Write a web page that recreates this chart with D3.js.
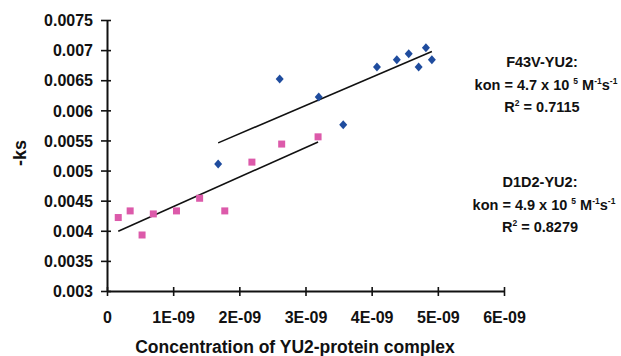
<!DOCTYPE html>
<html>
<head>
<meta charset="utf-8">
<script src="https://cdn.jsdelivr.net/npm/d3@7"></script>
<style>
  body { margin: 0; background: #fff; }
  text { font-family: "Liberation Sans", Arial, sans-serif; font-weight: bold; fill: #111; }
</style>
</head>
<body>
<div id="chart"></div>
<script>
// data
var f43vX = [1.68e-9, 2.61e-9, 3.2e-9, 3.57e-9, 4.08e-9, 4.38e-9, 4.56e-9, 4.71e-9, 4.82e-9, 4.91e-9];
var f43vY = [0.00511, 0.00652, 0.00622, 0.00576, 0.00672, 0.00684, 0.00694, 0.00672, 0.00704, 0.00684];
var d1d2X = [0.17e-9, 0.35e-9, 0.53e-9, 0.7e-9, 1.05e-9, 1.4e-9, 1.78e-9, 2.19e-9, 2.64e-9, 3.19e-9];
var d1d2Y = [0.00422, 0.00433, 0.00393, 0.00428, 0.00433, 0.00454, 0.00433, 0.00514, 0.00544, 0.00556];

// trend lines: slope, intercept
var f43vFit = [4.7e5, 0.00467];
var d1d2Fit = [4.9e5, 0.00391];

var xTicks = [0, 1e-9, 2e-9, 3e-9, 4e-9, 5e-9, 6e-9];
var xTickLabels = ["0", "1E-09", "2E-09", "3E-09", "4E-09", "5E-09", "6E-09"];
var yTicks = [0.003, 0.0035, 0.004, 0.0045, 0.005, 0.0055, 0.006, 0.0065, 0.007, 0.0075];
var yTickLabels = ["0.003", "0.0035", "0.004", "0.0045", "0.005", "0.0055", "0.006", "0.0065", "0.007", "0.0075"];

var svgWidth = 621, svgHeight = 356;

var svg = d3.select("#chart")
    .append("svg")
    .attr("width", svgWidth)
    .attr("height", svgHeight);

var xScale = d3.scaleLinear().domain([0, 6e-9]).range([107, 504]);
var yScale = d3.scaleLinear().domain([0.003, 0.0075]).range([291, 20]);

// axes
var xAxis = d3.axisBottom(xScale)
    .tickValues(xTicks)
    .tickFormat((d, i) => xTickLabels[i])
    .tickSize(0);
var yAxis = d3.axisLeft(yScale)
    .tickValues(yTicks)
    .tickFormat((d, i) => yTickLabels[i])
    .tickSize(0);

var gx = svg.append("g")
    .attr("transform", "translate(0,291)")
    .call(xAxis);
gx.select(".domain").attr("stroke", "#111").attr("stroke-width", 2);
gx.selectAll(".tick text").attr("dy", 0).attr("y", 32).style("font-size", "16px");
gx.selectAll(".tick").append("line")
    .attr("y1", -4).attr("y2", 5)
    .attr("stroke", "#111").attr("stroke-width", 1.6);

var gy = svg.append("g")
    .attr("transform", "translate(107,0)")
    .call(yAxis);
gy.select(".domain").attr("stroke", "#111").attr("stroke-width", 2);
gy.selectAll(".tick text").attr("x", -14).attr("dy", "0.36em").style("font-size", "16px");
gy.selectAll(".tick").append("line")
    .attr("x1", -6).attr("x2", 4)
    .attr("stroke", "#111").attr("stroke-width", 1.6);

// trend lines
function fitLine(xs, fit) {
    var x0 = d3.min(xs), x1 = d3.max(xs);
    return [[x0, fit[0] * x0 + fit[1]], [x1, fit[0] * x1 + fit[1]]];
}
var line = d3.line().x(d => xScale(d[0])).y(d => yScale(d[1]));
svg.append("path")
    .attr("d", line(fitLine(f43vX, f43vFit)))
    .attr("stroke", "#111").attr("stroke-width", 1.6).attr("fill", "none");
svg.append("path")
    .attr("d", line(fitLine(d1d2X, d1d2Fit)))
    .attr("stroke", "#111").attr("stroke-width", 1.6).attr("fill", "none");

// points
svg.selectAll(".sq")
    .data(d1d2X)
    .enter()
    .append("rect")
    .attr("x", (d, i) => xScale(d) - 3.5)
    .attr("y", (d, i) => yScale(d1d2Y[i]) - 3.5)
    .attr("width", 7).attr("height", 7)
    .attr("fill", "#dc5aaa");

svg.selectAll(".dia")
    .data(f43vX)
    .enter()
    .append("path")
    .attr("d", "M0,-4.5L4,0L0,4.5L-4,0Z")
    .attr("transform", (d, i) => `translate(${xScale(d)},${yScale(f43vY[i])})`)
    .attr("fill", "#1f4c9e");

// axis titles
svg.append("text")
    .attr("x", 295).attr("y", 353)
    .style("text-anchor", "middle")
    .style("font-size", "17.5px")
    .text("Concentration of YU2-protein complex");

svg.append("text")
    .attr("transform", "translate(26,153) rotate(-90)")
    .style("text-anchor", "middle")
    .style("font-size", "18px")
    .text("-ks");

// annotations
function note(cx, y, name, kon, r2) {
    var g = svg.append("g").style("font-size", "14.5px");
    g.append("text").attr("x", cx).attr("y", y).style("text-anchor", "middle").text(name);
    var t = g.append("text").attr("x", cx + 4).attr("y", y + 23).style("text-anchor", "middle");
    t.append("tspan").text("kon = " + kon + " x 10 ");
    t.append("tspan").attr("dy", -6).style("font-size", "8.5px").text("5");
    t.append("tspan").attr("dy", 6).text(" M");
    t.append("tspan").attr("dy", -6).style("font-size", "8.5px").text("-1");
    t.append("tspan").attr("dy", 6).text("s");
    t.append("tspan").attr("dy", -6).style("font-size", "8.5px").text("-1");
    var r = g.append("text").attr("x", cx).attr("y", y + 45).style("text-anchor", "middle");
    r.append("tspan").text("R");
    r.append("tspan").attr("dy", -6).style("font-size", "8.5px").text("2");
    r.append("tspan").attr("dy", 6).text(" = " + r2);
}
note(542, 67, "F43V-YU2:", "4.7", "0.7115");
note(540, 187, "D1D2-YU2:", "4.9", "0.8279");
</script>
</body>
</html>
